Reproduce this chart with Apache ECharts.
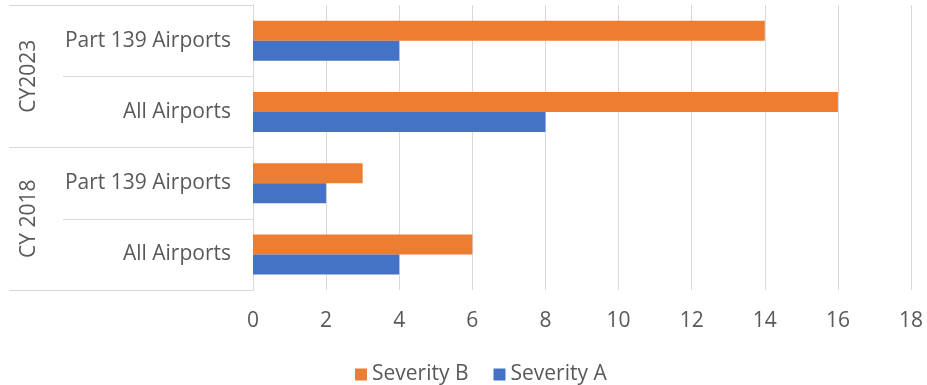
<!DOCTYPE html>
<html>
<head>
<meta charset="utf-8">
<script src="https://cdn.jsdelivr.net/npm/echarts@6/dist/echarts.min.js"></script>
<style>
  html, body { margin: 0; padding: 0; background: #fff; }
  #chart { width: 927px; height: 385px; }
</style>
</head>
<body>
<div id="chart"></div>
<script>
// Inner categories (bottom to top) and their year groups
const airportCategories = ['All Airports', 'Part 139 Airports', 'All Airports', 'Part 139 Airports'];
const yearGroups = ['CY 2018', 'CY2023'];
const severityA = [4, 2, 8, 4];
const severityB = [6, 3, 16, 14];
const xTicks = [0, 2, 4, 6, 8, 10, 12, 14, 16, 18];

const FONT = 'Open Sans';
const FS = 21;
const TEXT = '#595959';
const LINE = '#D9D9D9';

const chart = echarts.init(document.getElementById('chart'), null, { renderer: 'canvas' });
chart.setOption({
  animation: false,
  textStyle: { fontFamily: FONT },
  grid: { left: 253, right: 16, top: 5, bottom: 95, containLabel: false },
  legend: {
    data: ['Severity B', 'Severity A'],
    bottom: -5,
    left: 350,
    itemWidth: 12,
    itemHeight: 12,
    itemGap: 25,
    icon: 'rect',
    textStyle: { color: TEXT, fontSize: FS, fontFamily: FONT }
  },
  xAxis: {
    type: 'value',
    min: xTicks[0],
    max: xTicks[xTicks.length - 1],
    interval: 2,
    axisLine: { show: false },
    axisTick: { show: false },
    splitLine: { show: true, lineStyle: { color: LINE, width: 1 } },
    axisLabel: { color: TEXT, fontSize: FS, margin: 21, fontFamily: FONT }
  },
  yAxis: [
    {
      type: 'category',
      data: airportCategories,
      position: 'left',
      axisLine: { show: true, lineStyle: { color: LINE } },
      axisTick: { show: true, alignWithLabel: false, length: 190, lineStyle: { color: LINE } },
      axisLabel: { color: TEXT, fontSize: FS, margin: 22, fontFamily: FONT }
    },
    {
      type: 'category',
      data: yearGroups,
      position: 'left',
      axisLine: { show: true, lineStyle: { color: LINE } },
      axisTick: { show: true, alignWithLabel: false, length: 244, lineStyle: { color: LINE } },
      axisLabel: { color: TEXT, fontSize: FS, rotate: 90, margin: 213, fontFamily: FONT }
    }
  ],
  series: [
    {
      name: 'Severity B',
      type: 'bar',
      data: severityB,
      yAxisIndex: 0,
      barWidth: 20,
      barGap: '0%',
      itemStyle: { color: '#ED7D31' }
    },
    {
      name: 'Severity A',
      type: 'bar',
      data: severityA,
      yAxisIndex: 0,
      barWidth: 20,
      barGap: '0%',
      itemStyle: { color: '#4472C4' }
    }
  ]
});
</script>
</body>
</html>
